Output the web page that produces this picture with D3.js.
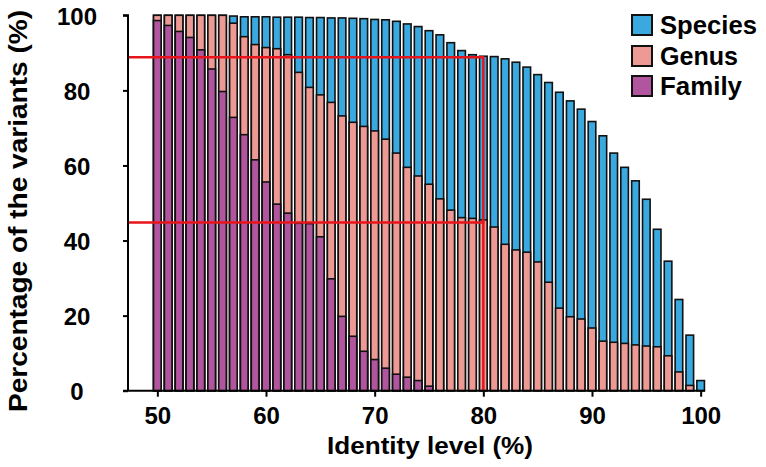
<!DOCTYPE html>
<html>
<head>
<meta charset="utf-8">
<script src="https://cdn.jsdelivr.net/npm/d3@7/dist/d3.min.js"></script>
<style>
  html, body { margin: 0; padding: 0; background: #fff; }
  svg { display: block; }
  text { font-family: "Liberation Sans", Arial, Helvetica, sans-serif; font-weight: bold; fill: #000; }
</style>
</head>
<body>
<svg id="chart" width="766" height="467"></svg>
<script>
// ---- data ----
const identity = d3.range(50, 101); // 50..100
const species = [100, 100, 100, 100, 100, 100, 100, 99.8, 99.6, 99.6,
  99.6, 99.5, 99.5, 99.5, 99.4, 99.4, 99.3, 99.3, 99.2, 99.1,
  98.9, 98.8, 98.4, 97.7, 97.0, 95.9, 94.8, 92.7, 90.6, 89.5,
  89.1, 89.0, 88.4, 87.5, 86.2, 84.2, 82.1, 79.5, 77.2, 75.0,
  71.7, 67.9, 63.3, 59.5, 55.9, 51.0, 43.0, 34.5, 24.3, 14.8,
  2.7];
const genus = [100, 100, 100, 100, 100, 100, 100, 97.9, 94.3, 92.2,
  91.4, 91.1, 89.5, 84.8, 80.8, 78.8, 76.8, 73.2, 71.5, 70.4,
  69.2, 67.0, 63.3, 59.5, 57.2, 55.0, 51.1, 48.1, 46.1, 45.9,
  45.5, 43.6, 39.0, 37.5, 36.9, 34.3, 28.9, 22.0, 19.7, 19.1,
  16.7, 13.2, 12.9, 12.6, 12.2, 11.9, 11.7, 9.3, 5.0, 1.4,
  0];
const family = [98.6, 97.3, 95.7, 94.1, 90.8, 85.7, 79.7, 72.8, 68.2, 61.5,
  55.6, 49.7, 47.3, 44.6, 44.5, 41.0, 29.8, 19.8, 14.5, 10.5,
  8.3, 6.0, 4.4, 3.6, 2.7, 1.2, 0, 0, 0, 0,
  0, 0, 0, 0, 0, 0, 0, 0, 0, 0,
  0, 0, 0, 0, 0, 0, 0, 0, 0, 0,
  0];
const seriesNames = ["Species", "Genus", "Family"];
const seriesColors = ["#39A9DF", "#EE9A94", "#B1559E"];
const xTicks = [50, 60, 70, 80, 90, 100];
const yTicks = [0, 20, 40, 60, 80, 100];
const refX = 80;
const refY = [88.8, 44.8];

// ---- scales ----
const svg = d3.select("#chart");
const x = d3.scaleLinear().domain([47.3, 100.4]).range([128, 705]);
const y = d3.scaleLinear().domain([0, 100]).range([390.7, 15.3]);
const barW = 7.6;

// ---- bars (overlapping, back to front) ----
const seriesData = [species, genus, family];
seriesData.forEach((vals, si) => {
  svg.append("g").selectAll("rect")
    .data(identity.map((v, i) => ({ v, val: vals[i] })).filter(d => d.val > 0))
    .join("rect")
    .attr("x", d => x(d.v) - barW / 2)
    .attr("width", barW)
    .attr("y", d => y(d.val))
    .attr("height", d => y(0) - y(d.val))
    .attr("fill", seriesColors[si])
    .attr("stroke", "#111")
    .attr("stroke-width", 1.6);
});

// ---- reference lines ----
const red = "#E8141B";
const refG = svg.append("g").attr("stroke", red).attr("stroke-width", 2.5).attr("fill", "none");
refY.forEach(v => {
  refG.append("line").attr("x1", x.range()[0]).attr("x2", x(refX) + 1).attr("y1", y(v)).attr("y2", y(v));
});
refG.append("line").attr("x1", x(refX)).attr("x2", x(refX)).attr("y1", y(refY[0])).attr("y2", y(0));

// ---- axes ----
const yAxis = d3.axisLeft(y).tickValues(yTicks).tickSize(5).tickFormat(d3.format("d"));
const yg = svg.append("g").attr("transform", `translate(${x.range()[0]},0)`).call(yAxis);
yg.select(".domain").attr("stroke", "#000").attr("stroke-width", 2).attr("d", `M-5,${y(100)}H0V${y(0)}`);
yg.selectAll(".tick line").attr("stroke", "#000").attr("stroke-width", 2);
yg.selectAll(".tick text")
  .attr("x", 77 - x.range()[0]).attr("dy", null).attr("y", 9)
  .attr("text-anchor", "middle")
  .style("font-size", "24px").style("font-family", "Liberation Sans, Arial, sans-serif").style("font-weight", "bold");

const xAxis = d3.axisBottom(x).tickValues(xTicks).tickSize(6).tickFormat(d3.format("d"));
const xg = svg.append("g").attr("transform", `translate(0,${y(0)})`).call(xAxis);
xg.select(".domain").attr("stroke", "#000").attr("stroke-width", 2).attr("d", `M123,0H${x.range()[1]}`);
xg.selectAll(".tick line").attr("stroke", "#000").attr("stroke-width", 2);
xg.selectAll(".tick text")
  .attr("y", 33).attr("dy", null)
  .style("font-size", "24px").style("font-family", "Liberation Sans, Arial, sans-serif").style("font-weight", "bold");

// ---- axis titles ----
svg.append("text")
  .attr("x", 327).attr("y", 454)
  .attr("textLength", 206).attr("lengthAdjust", "spacingAndGlyphs")
  .style("font-size", "24px")
  .text("Identity level (%)");

svg.append("text")
  .attr("transform", "translate(27,412) rotate(-90)")
  .attr("x", 0).attr("y", 0)
  .attr("textLength", 402).attr("lengthAdjust", "spacingAndGlyphs")
  .style("font-size", "25px")
  .text("Percentage of the variants (%)");

// ---- legend ----
const legendY = [25, 56, 86];
const legendLen = [97, 78, 82];
const lg = svg.append("g");
seriesNames.forEach((name, i) => {
  lg.append("rect")
    .attr("x", 632).attr("y", legendY[i] - 10)
    .attr("width", 20).attr("height", 20)
    .attr("fill", seriesColors[i]).attr("stroke", "#111").attr("stroke-width", 2);
  lg.append("text")
    .attr("x", 660).attr("y", legendY[i] + 8.5)
    .attr("textLength", legendLen[i]).attr("lengthAdjust", "spacingAndGlyphs")
    .style("font-size", "25px")
    .text(name);
});
</script>
</body>
</html>
